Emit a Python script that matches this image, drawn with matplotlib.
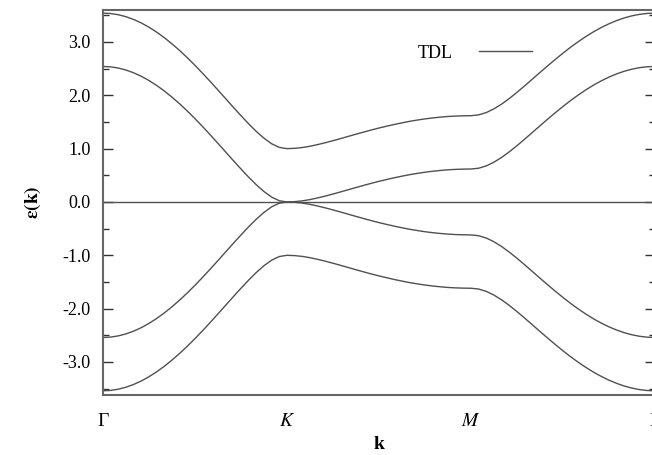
import numpy as np
import matplotlib
matplotlib.use("Agg")
import matplotlib.pyplot as plt
from matplotlib.lines import Line2D

plt.rcParams['font.family'] = ['Liberation Serif', 'DejaVu Serif']
plt.rcParams['mathtext.fontset'] = 'stix'

# high-symmetry path labels
k_labels = ['Γ', '$K$', '$M$', 'Γ']

# band energies read along Γ -> K -> M -> Γ (24 steps per segment)
band_outer_up = [3.541, 3.534, 3.511, 3.474, 3.422, 3.357, 3.277, 3.185, 3.081, 2.965, 2.840, 2.705,
                 2.562, 2.412, 2.257, 2.098, 1.937, 1.776, 1.618, 1.465, 1.322, 1.195, 1.091, 1.023,
                 1.000,
                 1.006, 1.021, 1.045, 1.076, 1.111, 1.149, 1.189, 1.230, 1.271, 1.311, 1.350, 1.387,
                 1.421, 1.454, 1.484, 1.512, 1.536, 1.558, 1.576, 1.591, 1.603, 1.611, 1.616, 1.618,
                 1.633, 1.677, 1.747, 1.836, 1.941, 2.056, 2.178, 2.303, 2.429, 2.553, 2.674, 2.791,
                 2.903, 3.007, 3.104, 3.193, 3.272, 3.342, 3.402, 3.452, 3.491, 3.519, 3.536, 3.541]
band_inner_up = [2.541, 2.534, 2.511, 2.474, 2.422, 2.357, 2.277, 2.185, 2.081, 1.965, 1.840, 1.705,
                 1.562, 1.412, 1.257, 1.098, 0.937, 0.776, 0.618, 0.465, 0.322, 0.195, 0.091, 0.023,
                 0.000,
                 0.006, 0.021, 0.045, 0.076, 0.111, 0.149, 0.189, 0.230, 0.271, 0.311, 0.350, 0.387,
                 0.421, 0.454, 0.484, 0.512, 0.536, 0.558, 0.576, 0.591, 0.603, 0.611, 0.616, 0.618,
                 0.633, 0.677, 0.747, 0.836, 0.941, 1.056, 1.178, 1.303, 1.429, 1.553, 1.674, 1.791,
                 1.903, 2.007, 2.104, 2.193, 2.272, 2.342, 2.402, 2.452, 2.491, 2.519, 2.536, 2.541]
band_inner_dn = [-2.541, -2.534, -2.511, -2.474, -2.422, -2.357, -2.277, -2.185, -2.081, -1.965, -1.840, -1.705,
                 -1.562, -1.412, -1.257, -1.098, -0.937, -0.776, -0.618, -0.465, -0.322, -0.195, -0.091, -0.023,
                 0.000,
                 -0.006, -0.021, -0.045, -0.076, -0.111, -0.149, -0.189, -0.230, -0.271, -0.311, -0.350, -0.387,
                 -0.421, -0.454, -0.484, -0.512, -0.536, -0.558, -0.576, -0.591, -0.603, -0.611, -0.616, -0.618,
                 -0.633, -0.677, -0.747, -0.836, -0.941, -1.056, -1.178, -1.303, -1.429, -1.553, -1.674, -1.791,
                 -1.903, -2.007, -2.104, -2.193, -2.272, -2.342, -2.402, -2.452, -2.491, -2.519, -2.536, -2.541]
band_outer_dn = [-3.541, -3.534, -3.511, -3.474, -3.422, -3.357, -3.277, -3.185, -3.081, -2.965, -2.840, -2.705,
                 -2.562, -2.412, -2.257, -2.098, -1.937, -1.776, -1.618, -1.465, -1.322, -1.195, -1.091, -1.023,
                 -1.000,
                 -1.006, -1.021, -1.045, -1.076, -1.111, -1.149, -1.189, -1.230, -1.271, -1.311, -1.350, -1.387,
                 -1.421, -1.454, -1.484, -1.512, -1.536, -1.558, -1.576, -1.591, -1.603, -1.611, -1.616, -1.618,
                 -1.633, -1.677, -1.747, -1.836, -1.941, -2.056, -2.178, -2.303, -2.429, -2.553, -2.674, -2.791,
                 -2.903, -3.007, -3.104, -3.193, -3.272, -3.342, -3.402, -3.452, -3.491, -3.519, -3.536, -3.541]

k = np.linspace(0, 3, len(band_outer_up))

fig = plt.figure(figsize=(6.52, 4.55), dpi=100)
ax = fig.add_axes([103 / 652, 60 / 455, 552 / 652, 385 / 455])

line_color = '#505050'
for band in [band_outer_up, band_inner_up, band_inner_dn, band_outer_dn]:
    ax.plot(k, band, color=line_color, lw=1.0)
ax.axhline(0, color=line_color, lw=1.0)

ax.set_xlim(0, 3)
ax.set_ylim(-3.62, 3.6)
ax.set_xticks([0, 1, 2, 3])
ax.set_xticklabels(k_labels)
ax.set_yticks([-3, -2, -1, 0, 1, 2, 3])
ax.set_yticklabels(['%.1f' % v for v in [-3, -2, -1, 0, 1, 2, 3]])
ax.set_yticks(np.arange(-3.5, 3.6, 1.0), minor=True)

ax.tick_params(axis='y', which='major', direction='in', length=7, width=1.0,
               color='#333333', right=True, labelsize=13, pad=9)
ax.tick_params(axis='y', which='minor', direction='in', length=4, width=1.0,
               color='#333333', right=True)
ax.tick_params(axis='x', length=0, labelsize=14, pad=13)

for sp in ax.spines.values():
    sp.set_color('#666666')
    sp.set_linewidth(1.5)

ax.set_ylabel(r'$\mathbf{\varepsilon(k)}$', fontsize=14, labelpad=14)
ax.set_xlabel('k', fontsize=14, fontweight='bold', labelpad=4)

handle = Line2D([], [], color=line_color, lw=1.0)
ax.legend([handle], ['TDL'], loc='upper right', bbox_to_anchor=(0.806, 0.952),
          frameon=False, markerfirst=False, handlelength=2.9, handletextpad=1.5,
          fontsize=13)

fig.savefig('out.png', dpi=100)
